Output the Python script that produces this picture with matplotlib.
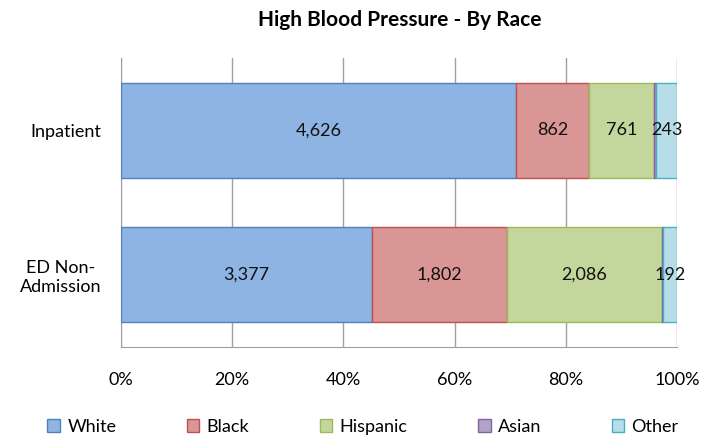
import matplotlib.pyplot as plt
import numpy as np

plt.rcParams['font.family'] = ['Lato', 'DejaVu Sans']

categories = ['Inpatient', 'ED Non-\nAdmission']
races = ['White', 'Black', 'Hispanic', 'Asian', 'Other']
counts = {
    'White': [4626, 3377],
    'Black': [862, 1802],
    'Hispanic': [761, 2086],
    'Asian': [22, 12],
    'Other': [243, 192],
}
show_label = ['White', 'Black', 'Hispanic', 'Other']

fills = ['#8EB4E3', '#D99694', '#C3D69B', '#B3A2C7', '#B7DEE8']
edges = ['#4F81BD', '#C0504D', '#9BBB59', '#8064A2', '#4BACC6']

fig = plt.figure(figsize=(7.04, 4.37), dpi=100)
ax = fig.add_axes([121 / 704, 1 - 347 / 437, 556 / 704, 289 / 437])

totals = np.sum([counts[r] for r in races], axis=0)
y = np.arange(len(categories))
left = np.zeros(len(categories))
for race, fc, ec in zip(races, fills, edges):
    vals = np.array(counts[race])
    pct = vals / totals * 100
    ax.barh(y, pct, left=left, height=0.655, color=fc, edgecolor=ec,
            linewidth=1, label=race, zorder=3)
    if race in show_label:
        for yi, (l, p, v) in enumerate(zip(left, pct, vals)):
            ax.text(l + p / 2, yi, f'{v:,}', ha='center', va='center',
                    fontsize=13, color='#111111', zorder=4)
    left += pct

ax.set_xlim(0, 100)
ax.set_ylim(1.5, -0.5)
ax.set_yticks(y)
ax.set_yticklabels(categories, fontsize=13, multialignment='center')
ax.set_xticks(np.arange(0, 101, 20))
ax.set_xticklabels([f'{t}%' for t in range(0, 101, 20)], fontsize=13)
ax.tick_params(length=0, pad=14)
ax.tick_params(axis='x', pad=18)
ax.grid(axis='x', color='#A0A0A0', linewidth=1, zorder=0)
for s in ['top', 'right']:
    ax.spines[s].set_visible(False)
for s in ['left', 'bottom']:
    ax.spines[s].set_color('#A0A0A0')

fig.suptitle('High Blood Pressure - By Race', fontsize=15, fontweight='bold',
             x=400 / 704, y=1 - 20 / 437, va='center')

fig.legend(loc='center', bbox_to_anchor=(363 / 704, 1 - 427 / 437), ncol=5,
           frameon=False, fontsize=13, handlelength=0.7, handleheight=0.7,
           handletextpad=0.4, columnspacing=3.9)

fig.savefig('out.png', dpi=100)
